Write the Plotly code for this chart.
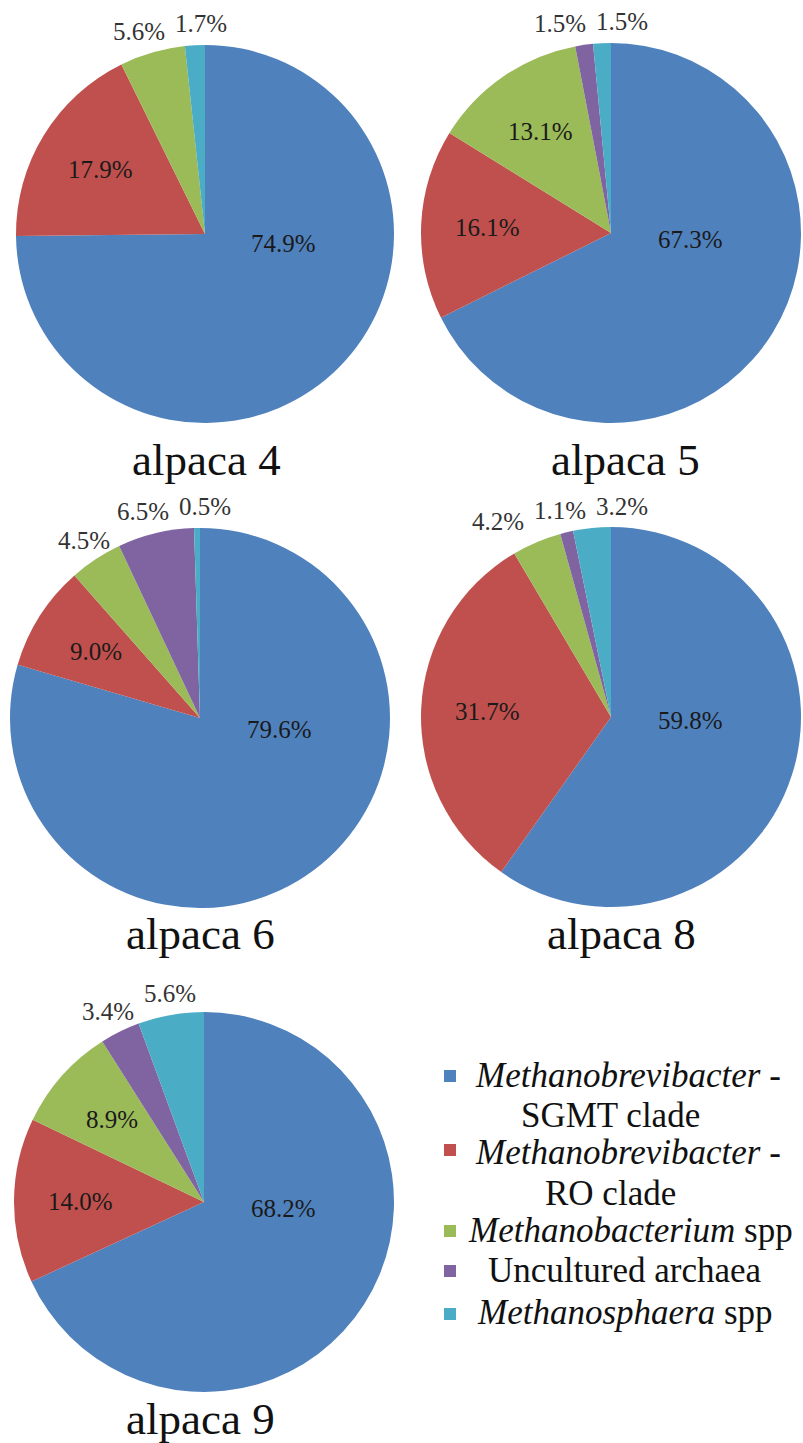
import math
import plotly.graph_objects as go

W, H = 803, 1443

categories = [
    "Methanobrevibacter - SGMT clade",
    "Methanobrevibacter - RO clade",
    "Methanobacterium spp",
    "Uncultured archaea",
    "Methanosphaera spp",
]
colors = ["#4F81BD", "#C0504D", "#9BBB59", "#8064A2", "#4BACC6"]

panel_titles = ["alpaca 4", "alpaca 5", "alpaca 6", "alpaca 8", "alpaca 9"]
alpaca_4 = [74.9, 17.9, 5.6, 0.0, 1.7]
alpaca_5 = [67.3, 16.1, 13.1, 1.5, 1.5]
alpaca_6 = [79.6, 9.0, 4.5, 6.5, 0.5]
alpaca_8 = [59.8, 31.7, 4.2, 1.1, 3.2]
alpaca_9 = [68.2, 14.0, 8.9, 3.4, 5.6]
panel_values = [alpaca_4, alpaca_5, alpaca_6, alpaca_8, alpaca_9]

# layout (pixel centres / radius of each pie, title positions)
pie_geom = [(205, 234, 189), (611, 233, 190), (200, 718, 190), (611, 717, 190), (204, 1202, 190)]
title_pos = [(207, 460), (625, 460), (200, 934), (621, 934), (200, 1419)]

FONT = "Liberation Serif"
LABEL_SIZE = 25
CHAR_W = {"%": 0.833, ".": 0.25}


def px_domain(cx, cy, r):
    return dict(x=[(cx - r) / W, (cx + r) / W], y=[1 - (cy + r) / H, 1 - (cy - r) / H])


def text_width(s, size):
    return sum(CHAR_W.get(ch, 0.5) for ch in s) * size


fig = go.Figure()
annotations = []

for vals, (cx, cy, r) in zip(panel_values, pie_geom):
    fig.add_trace(go.Pie(
        labels=categories,
        values=vals,
        textinfo="none",
        sort=False,
        direction="clockwise",
        rotation=0,
        marker=dict(colors=colors, line=dict(width=0)),
        domain=px_domain(cx, cy, r),
        showlegend=False,
        hovertemplate="%{label}: %{value:.1f}%<extra></extra>",
    ))

    # data labels, positioned from the slice angles (Excel-like "best fit")
    total = sum(vals)
    cum = 0.0
    outside = []
    for i, v in enumerate(vals):
        start, cum = cum, cum + v
        if v <= 0:
            continue
        mid = (start + cum) / 2 / total * 2 * math.pi  # clockwise from 12 o'clock
        txt = f"{v:.1f}%"
        if v / total > 0.5:
            ang = math.pi / 2 + (mid - math.pi / 2) * 0.15
            x, y = cx + 0.42 * r * math.sin(ang), cy - 0.42 * r * math.cos(ang)
            annotations.append((txt, x, y, "#1a1a1a"))
        elif v >= 8:
            x, y = cx + 0.65 * r * math.sin(mid), cy - 0.65 * r * math.cos(mid)
            annotations.append((txt, x, y, "#1a1a1a"))
        else:
            d = r + 22
            outside.append(dict(t=txt, x=cx + d * math.sin(mid), y=cy - d * math.cos(mid),
                                w=text_width(txt, LABEL_SIZE)))
    # simple horizontal de-overlap of outside labels
    for _ in range(60):
        moved = False
        for a in range(len(outside)):
            for b in range(a + 1, len(outside)):
                p, q = outside[a], outside[b]
                if abs(p["y"] - q["y"]) < 22:
                    need = (p["w"] + q["w"]) / 2 + 10
                    dx = q["x"] - p["x"]
                    if abs(dx) < need:
                        sgn = 1 if dx >= 0 else -1
                        shift = (need - abs(dx)) / 2
                        p["x"] -= sgn * shift
                        q["x"] += sgn * shift
                        moved = True
        if not moved:
            break
    for o in outside:
        annotations.append((o["t"], o["x"], o["y"], "#333333"))

ann = []
for txt, x, y, col in annotations:
    ann.append(dict(text=txt, x=x / W, y=1 - y / H, xref="paper", yref="paper",
                    xanchor="center", yanchor="middle", showarrow=False,
                    font=dict(family=FONT, size=LABEL_SIZE, color=col)))

for t, (x, y) in zip(panel_titles, title_pos):
    ann.append(dict(text=t, x=x / W, y=1 - y / H, xref="paper", yref="paper",
                    xanchor="center", yanchor="middle", showarrow=False,
                    font=dict(family=FONT, size=45, color="#111111")))

# custom legend (centred text like the original)
legend_lines = [
    ("<i>Methanobrevibacter</i> -", 628, 1075),
    ("SGMT clade", 610, 1115),
    ("<i>Methanobrevibacter</i> -", 628, 1152),
    ("RO clade", 610, 1193),
    ("<i>Methanobacterium</i> spp", 630, 1230),
    ("Uncultured archaea", 624, 1270),
    ("<i>Methanosphaera</i> spp", 625, 1312),
]
for txt, x, y in legend_lines:
    ann.append(dict(text=txt, x=x / W, y=1 - y / H, xref="paper", yref="paper",
                    xanchor="center", yanchor="middle", showarrow=False,
                    font=dict(family=FONT, size=35, color="#111111")))

swatch_y = [1076, 1150, 1231, 1271, 1314]
shapes = []
for c, y in zip(colors, swatch_y):
    s = 6
    shapes.append(dict(type="rect", xref="paper", yref="paper",
                       x0=(450 - s) / W, x1=(450 + s) / W,
                       y0=1 - (y + s) / H, y1=1 - (y - s) / H,
                       fillcolor=c, line=dict(width=0)))

fig.update_layout(
    width=W, height=H,
    margin=dict(l=0, r=0, t=0, b=0),
    paper_bgcolor="white",
    plot_bgcolor="white",
    annotations=ann,
    shapes=shapes,
    showlegend=False,
    font=dict(family=FONT, color="#111111"),
)

fig.write_html("out.html")
